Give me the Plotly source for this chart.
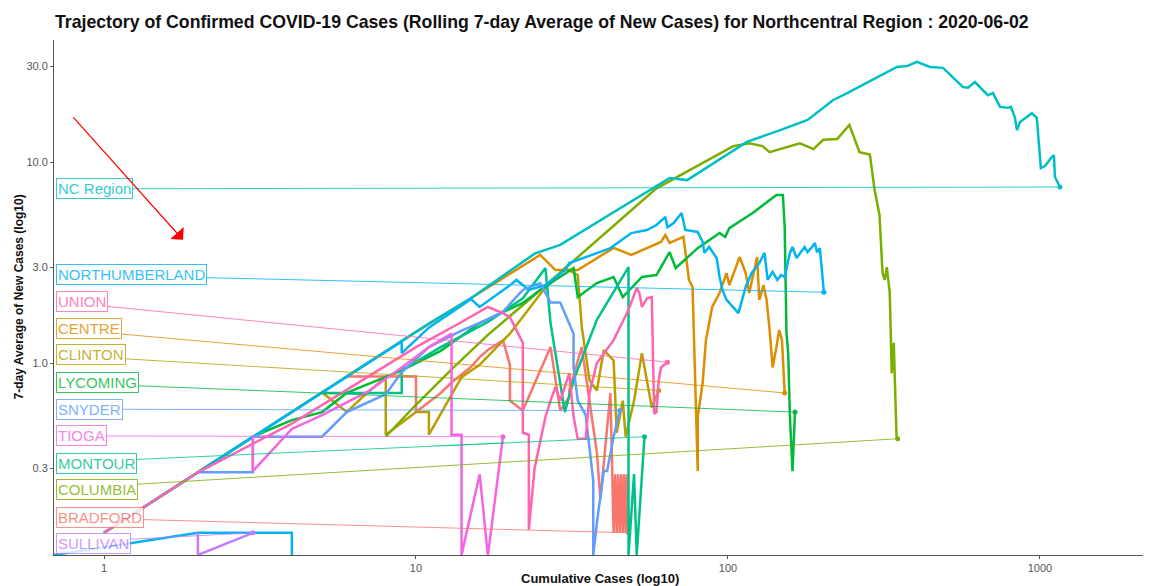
import math
import plotly.graph_objects as go

TITLE = "Trajectory of Confirmed COVID-19 Cases (Rolling 7-day Average of New Cases) for Northcentral Region : 2020-06-02"
X_TITLE = "Cumulative Cases (log10)"
Y_TITLE = "7-day Average of New Cases (log10)"

X_TICKS = [1, 10, 100, 1000]
X_TICK_TEXT = ["1", "10", "100", "1000"]
Y_TICKS = [0.3, 1, 3, 10, 30]
Y_TICK_TEXT = ["0.3", "1.0", "3.0", "10.0", "30.0"]

# ---- data: cumulative cases and rolling 7-day average of new cases (0 = none) ----
bradford_cum = [6, 10, 10, 12, 13, 15, 16, 17, 19, 20, 20, 22, 27, 29, 31, 31, 34, 38, 39, 42, 43,
                43.5, 44, 44.5, 45, 45.5, 46, 46.5, 47, 47.5, 48]
bradford_avg = [0.857, 0.857, 0.57, 0.71, 0.80, 0.955, 1.07, 1.16, 1.30, 0.98, 0.65, 0.58, 1.2, 0.58,
                0.68, 0.73, 1.2, 0.36, 0.21, 0.71, 0.143, 0.28, 0.143, 0.28, 0.143, 0.28, 0.143, 0.28,
                0.143, 0.28, 0.143]

centre_cum = [1, 3, 6, 10, 15, 25, 28, 33, 43, 49, 61, 63, 65, 72, 75, 77, 79, 80, 80, 83, 85, 89, 94,
              99, 101, 109, 114, 117, 124, 126, 130, 133, 136, 139, 143, 146, 149, 152]
centre_avg = [0.143, 0.43, 0.86, 1.43, 2.1, 3.45, 2.9, 2.9, 3.74, 3.45, 4.0, 4.33, 3.96, 4.24, 2.59,
              2.39, 0.58, 0.29, 0.54, 0.80, 1.30, 1.90, 2.23, 2.80, 2.44, 3.37, 2.80, 2.23, 3.37, 2.06,
              2.44, 2.06, 1.46, 0.95, 1.20, 1.46, 1.30, 0.71]

clinton_cum = [5, 6, 7, 8, 8, 10, 11, 11, 14, 16, 20, 25, 30, 33, 34, 36, 38, 40, 43, 44, 46, 47, 50,
               53, 57, 59, 60]
clinton_avg = [0.714, 0.571, 0.714, 0.85, 0.44, 0.57, 0.57, 0.44, 0.85, 0.98, 1.4, 2.2, 2.97, 2.74,
               1.51, 0.82, 0.73, 1.16, 1.03, 0.45, 0.65, 0.43, 0.65, 1.12, 0.60, 0.69, 0.73]

columbia_cum = [8, 10, 13, 17, 23, 59, 104, 117, 129, 136, 170, 188, 202, 224, 245, 264, 285, 295,
                306, 313, 318, 323, 330, 333, 335, 340, 347, 350]
columbia_avg = [0.43, 0.62, 0.93, 1.38, 2.06, 7.4, 12.0, 12.4, 12.0, 11.2, 12.4, 11.6, 12.9, 13.0,
                15.3, 11.2, 10.9, 7.3, 5.45, 2.80, 2.59, 3.0, 2.25, 1.26, 0.89, 1.26, 0.43, 0.42]

lycoming_cum = [1, 3, 4, 5, 6, 9, 12, 16, 22, 25, 32, 33, 38, 43, 46, 53, 59, 65, 68, 80, 94, 98, 101,
                120, 143, 150, 152, 154, 156, 158, 161, 164]
lycoming_avg = [0.143, 0.43, 0.52, 0.57, 0.71, 0.92, 1.15, 1.58, 1.99, 2.31, 2.97, 2.13, 2.5, 2.68,
                2.13, 2.68, 2.74, 3.56, 2.97, 3.73, 4.43, 4.24, 4.69, 5.58, 6.85, 6.85, 4.74, 1.41,
                1.12, 0.54, 0.29, 0.57]

montour_cum = [5, 9, 9, 12, 17, 22, 26, 27, 30, 32, 38, 48, 48, 50, 51, 54]
montour_avg = [0.71, 0.71, 0.92, 1.2, 1.6, 2.1, 2.97, 1.58, 0.57, 0.82, 1.64, 3.0, 0, 0.28, 0, 0.43]

ncregion_cum = [1, 2, 3, 5, 8, 11, 15, 24, 29, 43, 65, 74, 115, 147, 180, 217, 241, 348, 375, 403, 444,
                489, 567, 588, 619, 681, 707, 745, 789, 807, 831, 844, 863, 943, 977, 1007, 1038, 1092,
                1109, 1117, 1159]
ncregion_avg = [0.143, 0.286, 0.43, 0.71, 1.14, 1.57, 2.1, 3.5, 3.87, 5.64, 8.33, 8.13, 12.6, 14.4,
                16.2, 20.3, 22.0, 29.7, 30.0, 31.5, 29.7, 29.4, 23.6, 23.4, 25.0, 21.5, 22.0, 18.8,
                18.6, 18.8, 16.7, 14.4, 15.8, 17.5, 16.6, 9.34, 9.55, 10.6, 10.8, 8.42, 7.51]

northumberland_cum = [0, 2, 4, 4, None, 1, 3, 6, 9, 9, 11, 15, 16, 20, 21, 23, 26, 30, 31, 42, 49, 55,
                      59, 63, 64, 67, 71, 73, 80, 83, 84, 87, 92, 94, 96, 99, 104, 108, 114, 119, 126,
                      131, 134, 139, 144, 148, 152, 158, 161, 166, 176, 180, 186, 190, 193, 197, 200,
                      202, 203]
northumberland_avg = [0, 0.143, 0.143, 0, None, 0.143, 0.43, 0.86, 1.28, 1.12, 1.5, 2.08, 1.9, 2.44,
                      2.59, 2.31, 2.44, 2.9, 3.14, 3.73, 4.43, 4.59, 4.86, 5.33, 4.74, 4.97, 5.58, 4.59,
                      4.49, 4.0, 3.53, 3.78, 3.33, 2.68, 2.31, 2.06, 1.90, 1.77, 2.39, 2.80, 3.14, 3.53,
                      2.59, 2.84, 2.59, 2.74, 2.68, 3.53, 3.78, 3.33, 3.78, 3.56, 3.78, 3.95, 3.56,
                      3.73, 2.90, 2.50, 2.25]

snyder_cum = [2, 3, 3, 5, 6, 8, 9, 11, 14, 17, 19, 22, 25, 27, 29, 31, 32, 32, 33, 35, 37, 37, 38, 40,
              41, 43, 45]
snyder_avg = [0.286, 0.286, 0.43, 0.43, 0.57, 0.7, 0.9, 1.2, 1.45, 1.65, 1.8, 2.31, 2.5, 2.0, 2.0,
              1.55, 1.4, 0.95, 0.65, 0.55, 0.26, 0, 0.16, 0.29, 0.29, 0.43, 0.58]

sullivan_cum = [2, 2, 3]
sullivan_avg = [0.143, 0, 0.143]

tioga_cum = [3, 3, 4, 5, 7, 9, 11, 13, 13, 14, 14, 16, 17, 19]
tioga_avg = [0.43, 0.29, 0.47, 0.55, 0.72, 0.95, 1.2, 1.4, 0.44, 0.44, 0, 0.28, 0.11, 0.43]

union_cum = [1, 2, 4, 7, 10, 14, 17, 19, 20, 22, 22, 23, 23, 24, 26, 27, 28, 29, 31, 32, 33, 35, 36,
             38, 43, 48, 51, 52, 53, 55, 57, 58, 59, 60, 61, 64]
union_avg = [0.143, 0.286, 0.5, 0.85, 1.2, 1.6, 1.9, 1.77, 1.69, 1.26, 0.45, 0.44, 0.148, 0.30, 0.54,
             0.65, 0.76, 0.65, 0.89, 0.54, 0.42, 0.42, 0.71, 1.0, 1.30, 1.84, 2.36, 2.23, 1.90, 2.10,
             2.13, 0.56, 0.57, 0.82, 0.95, 1.01]

# name, cumulative, average, colour (drawn in this order)
SERIES = [
    ("BRADFORD", bradford_cum, bradford_avg, "#F8766D"),
    ("CENTRE", centre_cum, centre_avg, "#DE8C00"),
    ("CLINTON", clinton_cum, clinton_avg, "#B79F00"),
    ("COLUMBIA", columbia_cum, columbia_avg, "#7CAE00"),
    ("LYCOMING", lycoming_cum, lycoming_avg, "#00BA38"),
    ("MONTOUR", montour_cum, montour_avg, "#00C08B"),
    ("NC Region", ncregion_cum, ncregion_avg, "#00BFC4"),
    ("NORTHUMBERLAND", northumberland_cum, northumberland_avg, "#00B4F0"),
    ("SNYDER", snyder_cum, snyder_avg, "#619CFF"),
    ("SULLIVAN", sullivan_cum, sullivan_avg, "#C77CFF"),
    ("TIOGA", tioga_cum, tioga_avg, "#F564E3"),
    ("UNION", union_cum, union_avg, "#FF64B0"),
]

# label box placement (repelled labels stacked along the left edge), in avg units
LABEL_LEFT = 0.70
LABEL_POS = {
    "NC Region": 7.35, "NORTHUMBERLAND": 2.77, "UNION": 2.03, "CENTRE": 1.49, "CLINTON": 1.10,
    "LYCOMING": 0.80, "SNYDER": 0.59, "TIOGA": 0.434, "MONTOUR": 0.318, "COLUMBIA": 0.236,
    "BRADFORD": 0.171, "SULLIVAN": 0.127,
}

X_RANGE = [-0.1603, 3.356]
Y_RANGE = [-0.955, 1.607]
X_FLOOR = 10 ** X_RANGE[0]
Y_FLOOR = 10 ** Y_RANGE[0]

FONT = "Liberation Sans, Arial, sans-serif"


def floored(vals, lo):
    return [None if v is None else (v if v > 0 else lo) for v in vals]


fig = go.Figure()
annotations = []
for name, cum, avg, col in SERIES:
    xs = floored(cum, X_FLOOR)
    ys = floored(avg, Y_FLOOR)
    fig.add_trace(go.Scatter(x=xs, y=ys, mode="lines", line=dict(color=col, width=2.5),
                             connectgaps=False, showlegend=False, hoverinfo="skip"))
    fig.add_trace(go.Scatter(x=[xs[-1]], y=[ys[-1]], mode="markers",
                             marker=dict(color=col, size=5), showlegend=False, hoverinfo="skip"))
    annotations.append(dict(
        x=math.log10(xs[-1]), y=math.log10(ys[-1]), xref="x", yref="y",
        ax=math.log10(LABEL_LEFT), ay=math.log10(LABEL_POS[name]), axref="x", ayref="y",
        text=name, showarrow=True, arrowhead=0, arrowwidth=1, arrowcolor=col, standoff=0,
        xanchor="left", yanchor="middle",
        font=dict(family=FONT, size=15, color=col),
        bgcolor="white", bordercolor=col, borderwidth=1, borderpad=1, opacity=0.8,
    ))

# red pointer arrow
annotations.append(dict(
    x=0.1176, y=0.612, xref="paper", yref="paper", ax=-111, ay=-124, text="",
    showarrow=True, arrowhead=1, arrowsize=2.5, arrowwidth=1.2, arrowcolor="#FF0000", standoff=0,
))
# axis titles
annotations.append(dict(
    x=0.4977, y=-0.0447, xref="paper", yref="paper", text=f"<b>{X_TITLE}</b>", showarrow=False,
    xanchor="center", yanchor="middle", font=dict(family=FONT, size=13, color="#111"),
))
annotations.append(dict(
    x=-0.0328, y=0.5, xref="paper", yref="paper", text=f"<b>{Y_TITLE}</b>", showarrow=False,
    textangle=-90, xanchor="center", yanchor="middle",
    font=dict(family=FONT, size=12, color="#111"),
))

# the page places the figure 8px from its top-left corner
fig.update_layout(
    width=1143, height=578,
    margin=dict(l=46, r=0, t=32, b=31, autoexpand=False),
    paper_bgcolor="white", plot_bgcolor="white",
    title=dict(text=f"<b>{TITLE}</b>", x=0.0009, xref="paper", xanchor="left",
               y=1 - 14 / 578, yref="container", yanchor="middle",
               font=dict(family=FONT, size=17.7, color="#111")),
    annotations=annotations,
    xaxis=dict(type="log", range=X_RANGE, tickvals=X_TICKS, ticktext=X_TICK_TEXT, automargin=False,
               showgrid=False, zeroline=False, showline=True, linecolor="#555", linewidth=1,
               ticks="outside", ticklen=3, tickcolor="#555",
               tickfont=dict(family=FONT, size=11, color="#555")),
    yaxis=dict(type="log", range=Y_RANGE, tickvals=Y_TICKS, ticktext=Y_TICK_TEXT, automargin=False,
               showgrid=False, zeroline=False, showline=True, linecolor="#555", linewidth=1,
               ticks="outside", ticklen=3, tickcolor="#555",
               tickfont=dict(family=FONT, size=11, color="#555")),
)

fig.write_html("out.html")
